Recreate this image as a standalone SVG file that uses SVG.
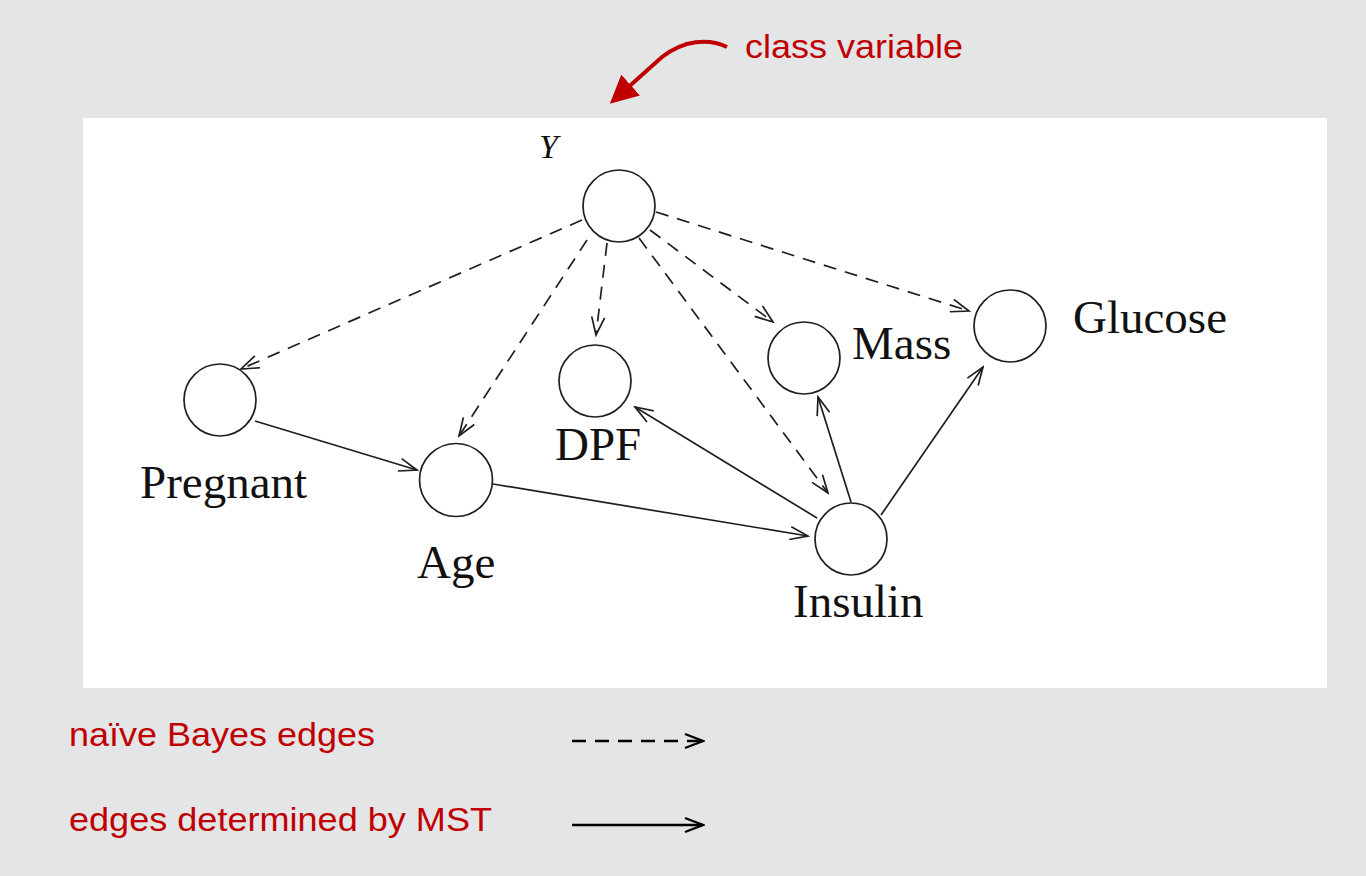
<svg xmlns="http://www.w3.org/2000/svg" width="1366" height="876" viewBox="0 0 1366 876">
  <style>
    .node circle { fill: #ffffff; stroke: #1e1e1e; stroke-width: 1.7; }
    .lbl { font-family: "Liberation Serif", "Times New Roman", serif; font-size: 47px; fill: #111111; }
    .edge { fill: none; stroke: #1e1e1e; stroke-width: 1.7; }
    .dash { stroke-dasharray: 13 9; }
    .red { font-family: "Liberation Sans", Arial, sans-serif; font-size: 33px; fill: #c00000; }
  </style>
  <defs>
    <marker id="open" viewBox="-20 -10 22 20" refX="0" refY="0" markerWidth="22" markerHeight="20" markerUnits="userSpaceOnUse" orient="auto">
      <path d="M-18,-6.5 L0,0 L-18,6.5" fill="none" stroke="#1e1e1e" stroke-width="1.7" stroke-dasharray="none"/>
    </marker>
    <marker id="legend" viewBox="-20 -10 22 20" refX="0" refY="0" markerWidth="22" markerHeight="20" markerUnits="userSpaceOnUse" orient="auto">
      <path d="M-18,-7 L0,0 L-18,7" fill="none" stroke="#000000" stroke-width="2.4" stroke-dasharray="none"/>
    </marker>
    <marker id="redhead" viewBox="0 0 10 10" refX="8" refY="5" markerWidth="28" markerHeight="28" markerUnits="userSpaceOnUse" orient="auto">
      <path d="M0,0 L10,5 L0,10 Z" fill="#c00000"/>
    </marker>
  </defs>

  <rect x="0" y="0" width="1366" height="876" fill="#e4e5e7"/>
  <rect x="83" y="118" width="1244" height="570" fill="#ffffff"/>

  <!-- class variable annotation -->
  <g id="annotation">
    <path d="M727,47 C708,38 684,40 662,57 L614,100" fill="none" stroke="#c00000" stroke-width="4" marker-end="url(#redhead)"/>
    <text class="red" x="745" y="58" textLength="218" lengthAdjust="spacingAndGlyphs">class variable</text>
  </g>

  <g id="connectors">
    <!-- naive Bayes (dashed) edges -->
    <line class="edge dash" x1="582" y1="220" x2="241" y2="369" marker-end="url(#open)"/>
    <line class="edge dash" x1="587" y1="240" x2="459" y2="436" marker-end="url(#open)"/>
    <line class="edge dash" x1="607" y1="243" x2="596" y2="335" marker-end="url(#open)"/>
    <line class="edge dash" x1="639" y1="238" x2="828" y2="493" marker-end="url(#open)"/>
    <line class="edge dash" x1="650" y1="230" x2="773" y2="322" marker-end="url(#open)"/>
    <line class="edge dash" x1="656" y1="212" x2="969" y2="311" marker-end="url(#open)"/>
    <!-- MST (solid) edges -->
    <line class="edge" x1="255" y1="421" x2="417" y2="470" marker-end="url(#open)"/>
    <line class="edge" x1="493" y1="484" x2="808" y2="536" marker-end="url(#open)"/>
    <line class="edge" x1="817" y1="518" x2="635" y2="407" marker-end="url(#open)"/>
    <line class="edge" x1="851" y1="502" x2="818" y2="397" marker-end="url(#open)"/>
    <line class="edge" x1="881" y1="515" x2="983" y2="367" marker-end="url(#open)"/>
  </g>

  <g id="node-Y" class="node">
    <circle cx="619" cy="206" r="36"/>
    <text x="539" y="158" font-family="Liberation Serif, 'Times New Roman', serif" font-style="italic" font-size="34" fill="#111111">Y</text>
  </g>
  <g id="node-Pregnant" class="node">
    <circle cx="220" cy="400" r="36"/>
    <text class="lbl" x="140" y="498">Pregnant</text>
  </g>
  <g id="node-Age" class="node">
    <circle cx="456" cy="480" r="36.5"/>
    <text class="lbl" x="417" y="578">Age</text>
  </g>
  <g id="node-DPF" class="node">
    <circle cx="595" cy="381" r="36"/>
    <text class="lbl" x="555" y="460">DPF</text>
  </g>
  <g id="node-Mass" class="node">
    <circle cx="804" cy="358" r="36"/>
    <text class="lbl" x="852" y="359">Mass</text>
  </g>
  <g id="node-Glucose" class="node">
    <circle cx="1010" cy="326" r="36"/>
    <text class="lbl" x="1073" y="333">Glucose</text>
  </g>
  <g id="node-Insulin" class="node">
    <circle cx="851" cy="539" r="36"/>
    <text class="lbl" x="793" y="617">Insulin</text>
  </g>

  <g id="legend-items">
    <text class="red" x="69" y="746" textLength="306" lengthAdjust="spacingAndGlyphs">naïve Bayes edges</text>
    <line x1="572" y1="741" x2="703" y2="741" stroke="#000000" stroke-width="2.4" stroke-dasharray="14 9" marker-end="url(#legend)"/>
    <text class="red" x="69" y="831" textLength="423" lengthAdjust="spacingAndGlyphs">edges determined by MST</text>
    <line x1="572" y1="825" x2="703" y2="825" stroke="#000000" stroke-width="2.4" marker-end="url(#legend)"/>
  </g>
</svg>
